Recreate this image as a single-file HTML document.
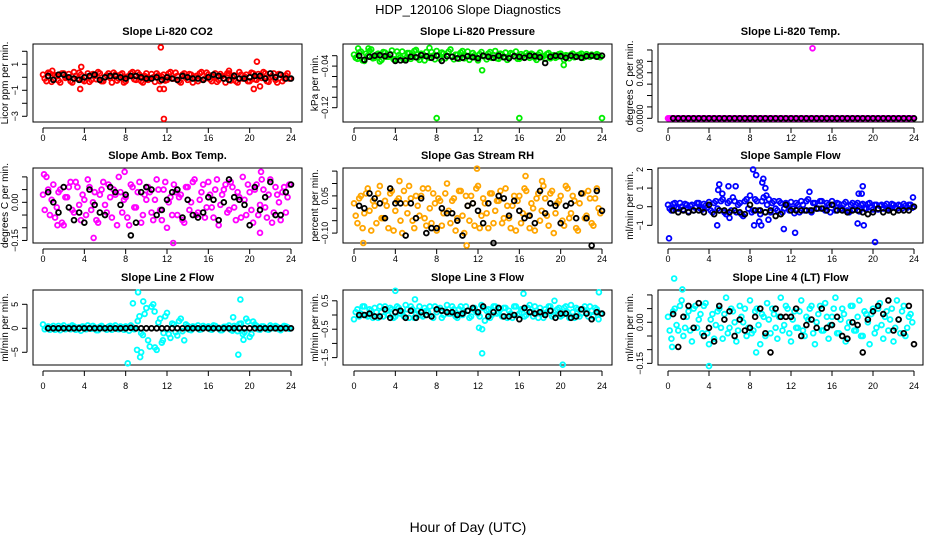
<!DOCTYPE html>
<html><head><meta charset="utf-8"><style>
html,body{margin:0;padding:0;background:#fff;}
svg{display:block;font-family:"Liberation Sans",sans-serif;}
</style></head><body>
<svg id="c" width="936" height="540" viewBox="0 0 936 540">
<text x="468" y="14" text-anchor="middle" font-size="13">HDP_120106  Slope Diagnostics</text>
<text x="468" y="532" text-anchor="middle" font-size="14">Hour of Day (UTC)</text>
</svg>
<script>
const xTicks = [0,4,8,12,16,20,24];

const co2Color = [0.2,-0.3,0.3,-0.2,0.1,-0.4,0.3,0,-0.3,0.4,-0.1,0.2,-0.3,0.3,-0.2,0.1,0.4,-0.3,0,0.3,-0.4,0.2,-0.1,0.3,-0.3,0.1,0.4,-0.2,0.2,-0.4,0.3,-0.1,0,0.3,-0.3,0.2,-0.2,0.4,-0.1,0.1,-0.4,0.3,-0.2,0.2,0,-0.3,0.4,-0.1,0.2,-0.3,0.3,-0.2,0.1,-0.4,0.3,0,-0.3,0.4,-0.1,0.2,-0.3,0.3,-0.2,0.1,0.4,-0.3,0,0.3,-0.4,0.2,-0.1,0.3];
const co2Color2 = [-0.1,0.35,-0.35,0.15,-0.25,0.3,-0.05,0.25,-0.4,0.1,0.35,-0.2,0.05,-0.35,0.25,-0.15,0.3,-0.3,0.15,-0.05,0.35,-0.25,0.2,-0.4,0.05,0.3,-0.15,0.35,-0.3,0.1,-0.2,0.25,-0.35,0.15,0.05,-0.25,0.3,-0.1,0.35,-0.3,0.2,-0.05,0.25,-0.4,0.1,0.3,-0.2,0.35,-0.15,0.05,-0.35,0.25,-0.1,0.3,-0.25,0.15,-0.4,0.2,0.05,-0.3,0.35,-0.15,0.25,-0.05,0.3,-0.35,0.1,-0.2,0.25,-0.3,0.15,-0.1];
const co2Black = [0.1,-0.2,0.2,0.2,0,-0.1,-0.2,0,0.1,0.2,-0.2,0,0.1,0.1,0,-0.1,0.1,0.1,0,-0.1,-0.1,0,-0.2,0,-0.1,-0.2,0.1,0,-0.1,-0.1,-0.2,0,0.2,0.1,-0.1,-0.2,0.1,-0.1,-0.1,0,0.1,0.1,-0.1,0.3,0,0.2,-0.1,-0.1];
const co2OutHours = [11.4,11.7,11.3,11.7,3.6,3.7,20.7,20.4,21,0.9,18];
const co2OutVals = [2.3,-3.2,-0.9,-0.9,-0.9,0.8,1.2,-0.9,-0.7,0.5,0.5];

const presColor = [-0.018,-0.026,-0.012,-0.03,-0.02,-0.008,-0.024,-0.016,-0.028,-0.014,-0.022,-0.01,-0.027,-0.019,-0.012,-0.025,-0.015,-0.022,-0.009,-0.028,-0.017,-0.013,-0.024,-0.02,-0.011,-0.026,-0.016,-0.021,-0.008,-0.027,-0.018,-0.014,-0.025,-0.012,-0.022,-0.019,-0.029,-0.013,-0.021,-0.016,-0.024,-0.011,-0.026,-0.018,-0.014,-0.023,-0.017,-0.012,-0.026,-0.02,-0.015,-0.024,-0.018,-0.028,-0.014,-0.021,-0.017,-0.025,-0.019,-0.022,-0.016,-0.028,-0.02,-0.018,-0.023,-0.019,-0.016,-0.022,-0.02,-0.018,-0.021,-0.019];
const presColor2 = [-0.024,-0.014,-0.029,-0.016,-0.011,-0.025,-0.018,-0.031,-0.013,-0.022,-0.017,-0.027,-0.012,-0.023,-0.028,-0.015,-0.026,-0.011,-0.024,-0.016,-0.029,-0.021,-0.013,-0.027,-0.019,-0.014,-0.025,-0.012,-0.022,-0.018,-0.026,-0.011,-0.02,-0.028,-0.015,-0.024,-0.017,-0.021,-0.027,-0.013,-0.019,-0.025,-0.016,-0.022,-0.028,-0.015,-0.021,-0.026,-0.017,-0.023,-0.019,-0.016,-0.024,-0.018,-0.021,-0.026,-0.015,-0.02,-0.024,-0.017,-0.022,-0.019,-0.025,-0.016,-0.021,-0.018,-0.024,-0.017,-0.022,-0.02,-0.017,-0.023];
const presBlack = [-0.02,-0.028,-0.022,-0.02,-0.019,-0.021,-0.018,-0.03,-0.029,-0.029,-0.022,-0.023,-0.019,-0.021,-0.024,-0.02,-0.03,-0.021,-0.022,-0.025,-0.024,-0.021,-0.023,-0.025,-0.02,-0.022,-0.024,-0.02,-0.023,-0.025,-0.021,-0.022,-0.024,-0.02,-0.021,-0.023,-0.034,-0.022,-0.02,-0.021,-0.024,-0.02,-0.022,-0.024,-0.021,-0.02,-0.022,-0.02];
const presOutHours = [8,16,24,12.4,20.3,0.4,1.4,7.3];
const presOutVals = [-0.14,-0.14,-0.14,-0.048,-0.038,-0.006,-0.006,-0.005];

const tempColor = [0,0,0,0,0,0,0,0,0,0,0,0,0,0,0,0,0,0,0,0,0,0,0,0,0,0,0,0,0,0,0,0,0,0,0,0,0,0,0,0,0,0,0,0,0,0,0,0,0,0,0,0,0,0,0,0,0,0,0,0,0,0,0,0,0,0,0,0,0,0,0,0];
const tempColor2 = [0,0,0,0,0,0,0,0,0,0,0,0,0,0,0,0,0,0,0,0,0,0,0,0,0,0,0,0,0,0,0,0,0,0,0,0,0,0,0,0,0,0,0,0,0,0,0,0,0,0,0,0,0,0,0,0,0,0,0,0,0,0,0,0,0,0,0,0,0,0,0,0];
const tempBlack = [0,0,0,0,0,0,0,0,0,0,0,0,0,0,0,0,0,0,0,0,0,0,0,0,0,0,0,0,0,0,0,0,0,0,0,0,0,0,0,0,0,0,0,0,0,0,0,0];
const tempOutHours = [14.1];
const tempOutVals = [0.00123];

const ambColor = [0.03,0.1,-0.05,0.07,-0.02,0.05,-0.09,0.02,0.08,-0.04,0.06,-0.07,0.01,0.09,-0.03,0.04,-0.08,0.05,-0.01,0.07,-0.06,0.03,0.1,-0.04,0.02,-0.09,0.06,-0.02,0.08,-0.05,0.01,0.04,-0.07,0.09,-0.03,0.05,-0.1,0.02,0.07,-0.05,0.03,-0.08,0.06,0.0,0.09,-0.04,0.04,-0.06,0.08,-0.02,0.05,-0.09,0.03,0.07,-0.03,0.06,-0.07,0.02,0.1,-0.05,0.04,-0.08,0.07,-0.01,0.05,-0.06,0.09,-0.04,0.03,-0.07,0.06,0.02];
const ambColor2 = [-0.03,0.05,0.01,-0.06,0.04,-0.08,0.02,0.06,-0.03,0.08,-0.01,0.03,-0.05,0.06,0.0,-0.07,0.03,0.08,-0.04,0.02,0.05,-0.09,0.04,0.01,-0.06,0.07,-0.02,0.04,-0.08,0.03,0.06,-0.04,0.01,0.05,-0.07,0.08,0.0,-0.05,0.04,0.02,-0.07,0.06,-0.03,0.08,-0.05,0.01,0.07,-0.02,0.03,-0.06,0.09,-0.01,0.05,-0.04,0.08,-0.02,0.04,-0.06,0.01,0.07,-0.03,0.05,-0.05,0.09,-0.02,0.03,-0.08,0.06,0.0,0.04,-0.04,0.07];
const ambBlack = [0.04,0.0,-0.04,0.06,-0.02,-0.07,-0.04,-0.08,0.05,-0.01,-0.04,-0.05,0.06,0.04,-0.01,0.03,-0.13,-0.08,0.04,0.06,0.05,-0.05,-0.03,0.01,0.04,0.05,-0.06,0.01,-0.05,-0.06,-0.04,0.02,0.01,-0.07,0.0,0.09,0.02,0.01,-0.01,-0.09,0.06,-0.03,0.02,0.08,-0.05,-0.05,0.04,0.07];
const ambOutHours = [0.1,4.9,12.6,21.1,7.9,21,1.4];
const ambOutVals = [0.11,-0.14,-0.16,0.12,0.12,-0.12,-0.09];

const rhColor = [0.02,-0.06,0.05,-0.02,0.08,-0.09,0.01,0.06,-0.04,0.03,-0.08,0.07,-0.01,0.04,-0.1,0.02,0.09,-0.05,0.05,-0.03,0.08,-0.07,0.0,0.06,-0.09,0.03,-0.02,0.1,-0.06,0.04,-0.04,0.07,-0.1,0.01,0.05,-0.07,0.09,-0.03,0.02,-0.08,0.06,-0.01,0.03,-0.06,0.08,-0.04,0.01,-0.09,0.05,-0.02,0.07,-0.08,0.0,0.04,-0.05,0.09,-0.03,0.06,-0.1,0.02,0.05,-0.07,0.08,-0.02,0.03,-0.09,0.06,-0.04,0.07,-0.06,0.04,0.0];
const rhColor2 = [-0.03,0.04,-0.08,0.06,-0.01,0.03,-0.06,0.09,-0.04,0.01,0.06,-0.09,0.03,-0.05,0.07,-0.02,0.04,-0.08,0.01,0.05,-0.04,0.08,-0.06,0.02,0.04,-0.07,0.06,-0.01,0.03,-0.09,0.07,-0.03,0.05,-0.05,0.02,0.08,-0.08,0.04,-0.02,0.06,-0.06,0.03,0.07,-0.04,0.01,-0.08,0.05,0.03,-0.06,0.08,-0.03,0.02,-0.09,0.06,-0.01,0.04,-0.07,0.07,-0.02,0.03,-0.05,0.09,-0.04,0.05,-0.08,0.02,0.06,-0.03,0.04,-0.07,0.08,-0.02];
const rhBlack = [0.01,-0.0,0.06,0.04,0.02,-0.04,0.08,0.02,0.02,-0.11,0.02,-0.04,0.04,-0.1,-0.08,-0.08,0.0,-0.02,-0.02,-0.05,-0.11,0.01,0.02,-0.01,-0.06,0.02,-0.14,0.05,0.04,-0.03,0.03,-0.01,-0.04,-0.03,-0.06,0.07,-0.02,0.02,0.01,-0.06,0.01,0.02,-0.04,0.06,-0.04,-0.15,0.07,-0.01];
const rhOutHours = [11.9,16.6,10.9,0.9,4.4,18.2];
const rhOutVals = [0.16,0.13,-0.15,-0.14,0.11,0.11];

const flowColor = [0.1,-0.2,0.2,-0.1,0,0.15,-0.25,0.1,-0.05,0.2,-0.15,0.05,0.25,-0.3,0.3,-0.2,0.4,-0.4,0.3,0.5,-0.3,0.2,-0.5,0.4,0.6,-0.2,0.3,-0.4,0.5,0.1,-0.3,0.3,-0.2,0.2,-0.1,0.1,0.25,-0.35,0.1,0.3,-0.2,0.4,-0.3,0.2,-0.1,0.3,-0.2,0.1,0.3,-0.2,0.15,-0.1,0.25,-0.3,0.2,0.1,-0.25,0.15,-0.1,0.2,-0.15,0.1,0.05,-0.1,0.15,-0.05,0.1,-0.1,0.05,0.15,-0.05,0.1];
const flowColor2 = [-0.1,0.15,-0.05,0.2,-0.15,0.1,0.05,-0.2,0.2,-0.1,0.15,-0.05,-0.2,0.2,-0.1,0.3,-0.3,0.2,-0.2,0.3,0.1,-0.4,0.3,-0.1,-0.3,0.4,-0.2,0.3,-0.3,0.4,0.2,-0.1,0.3,-0.3,0.2,-0.2,-0.1,0.2,-0.3,0.1,0.3,-0.2,0.2,-0.1,0.3,-0.1,0.2,-0.3,0.1,0.2,-0.1,0.15,-0.2,0.1,-0.15,0.2,0.1,-0.1,0.15,-0.05,0.1,-0.15,0.1,0.05,-0.1,0.15,-0.05,0.1,-0.1,0.05,0.1,-0.05];
const flowBlack = [-0.2,-0.3,-0.2,-0.3,-0.2,-0.2,-0.3,0.1,-0.4,-0.2,-0.2,-0.3,-0.2,-0.3,-0.4,0.1,-0.2,-0.2,-0.3,-0.2,-0.5,-0.4,0.1,-0.2,-0.2,-0.2,-0.2,-0.2,-0.1,-0.1,-0.2,0.1,-0.2,-0.2,-0.3,-0.2,-0.2,-0.3,-0.4,-0.3,-0.1,-0.3,-0.2,-0.3,-0.2,-0.2,-0.2,0];
const flowOutHours = [0.1,4.8,4.9,5.0,5.3,5.9,6.6,8.3,8.6,9.3,9.5,9.6,9.8,8.4,8.9,9.1,9.2,13.8,18.5,18.9,19.0,18.6,19.1,20.2,11.3,12.4,23.9,6.0];
const flowOutVals = [-1.7,-1.0,0.9,1.2,0.7,1.1,1.1,2.0,1.7,1.5,1.0,0.6,-0.7,-1.0,-0.8,-1.0,1.3,0.8,-0.9,0.7,1.1,0.7,-1.0,-1.9,-1.2,-1.4,0.5,-0.6];

const l2Color = [0.8,0.2,-0.3,0.5,0,-0.4,0.6,0.1,-0.2,0.4,0,-0.5,0.3,0.6,-0.1,0.2,-0.4,0.5,0,0.3,-0.3,0.6,-0.2,0.1,0.4,-0.5,0.2,0,2.5,-1.4,4.2,-3.8,5.0,-4.5,2.0,-1.0,3.2,-2.0,0.8,-1.5,2.0,-2.5,0.5,-0.4,0.3,0.6,-0.2,0.2,0.4,-0.3,0.5,0.1,-0.4,0.3,0.6,-0.5,0.2,0.9,-1.2,2.0,-1.8,1.4,0.5,-0.3,0.4,-0.2,0.6,0,0.3,-0.4,0.5,0.2];
const l2Color2 = [-0.2,0.4,0.1,-0.3,0.5,0.2,-0.2,0.3,0.6,-0.3,0.2,0.4,-0.2,0.1,0.5,-0.4,0.3,0,-0.3,0.5,0.2,-0.1,0.4,-0.3,0.2,0.6,-0.2,1.5,-1.0,3.0,-2.5,4.5,-4.0,1.2,-3.0,2.5,-1.2,1.0,-0.8,1.5,-0.6,0.8,-0.3,0.4,0.1,-0.3,0.5,0.2,-0.2,0.6,0.1,-0.4,0.3,0.2,-0.3,0.5,-0.6,1.0,-0.8,1.4,-1.2,0.8,-0.2,0.4,0.1,-0.3,0.3,0.5,-0.2,0.2,0.4,-0.1];
const l2Black = [0,0,0,0,0,0,0,0,0,0,0,0,0,0,0,0,0.1,0,0,0,0,0,0,0,0,0,0,0,0,0,0,0,0,0,0,0,0,0,0,0,0,0,0,0,0,0,0,0];
const l2OutHours = [8.2,9.2,9.4,8.7,9.1,9.5,9.7,10.8,11.6,19.1,18.9,19.4,18.4];
const l2OutVals = [-7.3,7.5,-6.0,5.2,-4.5,-5.0,5.6,3.5,-2.5,6.0,-5.5,-2.4,2.3];

const l3Color = [-0.15,0.2,0.05,0.3,-0.05,0.15,0.25,-0.1,0.1,0.3,0.0,0.2,-0.05,0.25,0.1,0.35,-0.1,0.2,0.05,0.3,-0.05,0.15,0.3,-0.1,0.1,0.25,0.0,0.35,0.05,0.2,-0.1,0.3,0.1,0.15,-0.05,0.25,0.05,0.35,-0.2,0.2,0.0,0.3,0.1,-0.05,0.25,0.15,-0.1,0.3,0.05,0.2,0.0,0.35,-0.05,0.15,0.25,-0.1,0.1,0.3,0.0,0.2,-0.05,0.25,0.1,0.35,-0.1,0.2,0.05,0.3,-0.05,0.15,0.25,-0.15];
const l3Color2 = [0.1,-0.05,0.3,0.0,0.2,-0.1,0.1,0.3,-0.05,0.15,0.25,-0.1,0.3,0.05,-0.05,0.2,0.3,-0.1,0.15,0.0,0.25,0.1,-0.05,0.3,0.2,-0.1,0.15,0.05,0.3,-0.05,0.2,0.0,0.3,-0.1,0.2,0.1,-0.05,0.25,0.15,-0.1,0.3,0.05,0.2,0.25,-0.1,0.05,0.3,0.0,0.2,-0.05,0.25,0.1,0.3,-0.1,0.05,0.2,0.3,-0.05,0.15,0.25,0.0,0.3,-0.1,0.1,0.25,-0.05,0.2,0.1,0.3,-0.05,0.2,0.05];
const l3Black = [0,0,0.05,-0.05,-0.05,0.2,-0.1,0.1,0.15,-0.1,0.15,-0.1,0.1,0,-0.05,0.2,0.15,0.1,0.1,0,0.05,0.15,0.25,0.1,0.3,-0.05,0.1,0.25,-0.05,-0.05,0,-0.15,0.25,0.1,0.05,0.1,0,0.15,-0.1,0.05,0.05,-0.1,-0.05,0.2,0.05,-0.15,0.1,0.05];
const l3OutHours = [12.4,20.2,12.1,12.4,4.0,16.4,23.7,5.9,19.4];
const l3OutVals = [-1.35,-1.75,-0.45,-0.5,0.85,0.75,0.8,0.55,0.5];

const l4Color = [0.02,-0.06,0.05,-0.03,0.08,-0.02,0.04,-0.07,0.06,0.01,-0.04,0.07,-0.08,0.03,-0.01,0.05,-0.06,0.09,-0.02,0.04,-0.07,0.06,0.0,-0.05,0.08,-0.03,0.05,-0.08,0.02,0.07,-0.04,0.03,-0.06,0.09,-0.01,0.05,-0.07,0.04,-0.02,0.08,-0.05,0.01,0.06,-0.08,0.03,-0.03,0.07,-0.06,0.02,0.09,-0.04,0.05,-0.07,0.0,0.06,-0.03,0.08,-0.05,0.03,-0.08,0.05,-0.02,0.07,-0.06,0.04,0.01,-0.07,0.08,-0.04,0.06,-0.02,0.03];
const l4Color2 = [-0.03,0.04,-0.01,0.06,-0.05,0.02,-0.03,0.05,-0.02,0.03,0.06,-0.04,0.01,-0.06,0.04,-0.02,0.03,-0.04,0.05,0.0,-0.03,0.02,0.05,-0.02,-0.04,0.04,-0.01,0.03,-0.05,0.01,0.05,-0.02,0.02,-0.03,0.06,-0.04,0.01,-0.02,0.04,-0.03,0.02,0.05,-0.04,0.0,0.06,-0.03,0.02,-0.01,0.05,-0.04,0.01,0.03,-0.02,0.06,-0.03,0.02,-0.05,0.04,0.0,0.03,-0.04,0.05,-0.01,0.02,-0.03,0.05,-0.02,0.01,0.04,-0.05,0.02,0.0];
const l4Black = [0.03,-0.09,0.02,0.06,-0.02,0.07,-0.05,-0.02,-0.07,0.06,0.01,0.04,-0.05,0.01,-0.03,-0.02,0.02,0.05,-0.04,-0.11,0.05,0.02,0.02,0.02,0.05,-0.05,-0.01,0.01,-0.02,0.05,-0.02,-0.01,0.02,-0.05,-0.06,0.0,-0.01,-0.11,0.01,0.04,0.06,0.03,0.08,-0.03,0.01,-0.04,0.06,-0.08];
const l4OutHours = [0.6,4.0,8.6,0.4,1.4];
const l4OutVals = [0.16,-0.16,-0.11,-0.09,0.12];

const NS = "http://www.w3.org/2000/svg";
const svg = document.getElementById('c');
function mk(tag, attrs, parent){
  const e = document.createElementNS(NS, tag);
  for (const k in attrs) e.setAttribute(k, attrs[k]);
  (parent||svg).appendChild(e);
  return e;
}

const panels = [
 {key:'co2',title:'Slope Li-820 CO2',ylab:'Licor ppm per min.',col:0,row:0,ymin:-3.44,ymax:2.56,ticks:[-3,-2,-1,0,1,2],labels:[1,-1,-3],fmt:v=>v<0?'\u2212'+(-v):''+v,color:'#ff0000',c:co2Color,c2:co2Color2,b:co2Black,oh:co2OutHours,ov:co2OutVals},
 {key:'pressure',title:'Slope Li-820 Pressure',ylab:'kPa per min.',col:1,row:0,ymin:-0.1475,ymax:0.0025,ticks:[-0.02,-0.04,-0.06,-0.08,-0.1,-0.12],labels:[-0.04,-0.12],fmt:v=>'\u2212'+(-v).toFixed(2),color:'#00ee00',c:presColor,c2:presColor2,b:presBlack,oh:presOutHours,ov:presOutVals},
 {key:'temp',title:'Slope Li-820 Temp.',ylab:'degrees C per min.',col:2,row:0,ymin:-0.000065,ymax:0.001305,ticks:[0,0.0002,0.0004,0.0006,0.0008,0.001,0.0012],labels:[0,0.0008],fmt:v=>v.toFixed(4),color:'#ff00ff',c:tempColor,c2:tempColor2,b:tempBlack,oh:tempOutHours,ov:tempOutVals},
 {key:'amb-temp',title:'Slope Amb. Box Temp.',ylab:'degrees C per min.',col:0,row:1,ymin:-0.16,ymax:0.135,ticks:[-0.15,-0.1,-0.05,0,0.05,0.1],labels:[0,-0.15],fmt:v=>v<0?'\u2212'+(-v).toFixed(2):v.toFixed(2),color:'#ff00ff',c:ambColor,c2:ambColor2,b:ambBlack,oh:ambOutHours,ov:ambOutVals},
 {key:'gas-rh',title:'Slope Gas Stream RH',ylab:'percent per min.',col:1,row:1,ymin:-0.14,ymax:0.1625,ticks:[-0.1,-0.05,0,0.05,0.1,0.15],labels:[0.05,-0.1],fmt:v=>v<0?'\u2212'+(-v).toFixed(2):v.toFixed(2),color:'#ffa500',c:rhColor,c2:rhColor2,b:rhBlack,oh:rhOutHours,ov:rhOutVals},
 {key:'sample-flow',title:'Slope Sample Flow',ylab:'ml/min per min.',col:2,row:1,ymin:-1.95,ymax:2.08,ticks:[-1,0,1,2],labels:[2,1,0,-1],fmt:v=>v<0?'\u2212'+(-v):''+v,color:'#0000ff',c:flowColor,c2:flowColor2,b:flowBlack,oh:flowOutHours,ov:flowOutVals},
 {key:'line2-flow',title:'Slope Line 2 Flow',ylab:'ml/min per min.',col:0,row:2,ymin:-7.65,ymax:7.98,ticks:[-5,0,5],labels:[5,0,-5],fmt:v=>v<0?'\u2212'+(-v):''+v,color:'#00ffff',c:l2Color,c2:l2Color2,b:l2Black,oh:l2OutHours,ov:l2OutVals},
 {key:'line3-flow',title:'Slope Line 3 Flow',ylab:'ml/min per min.',col:1,row:2,ymin:-1.76,ymax:0.88,ticks:[-1.5,-1,-0.5,0,0.5],labels:[0.5,-0.5,-1.5],fmt:v=>v<0?'\u2212'+(-v):''+v,color:'#00ffff',c:l3Color,c2:l3Color2,b:l3Black,oh:l3OutHours,ov:l3OutVals},
 {key:'line4-flow',title:'Slope Line 4 (LT) Flow',ylab:'ml/min per min.',col:2,row:2,ymin:-0.156,ymax:0.118,ticks:[-0.15,-0.1,-0.05,0,0.05,0.1],labels:[0,-0.15],fmt:v=>v<0?'\u2212'+(-v).toFixed(2):v.toFixed(2),color:'#00ffff',c:l4Color,c2:l4Color2,b:l4Black,oh:l4OutHours,ov:l4OutVals}
];
const cols = [{b0:33,b1:302,h0:43,h24:291},{b0:343,b1:612,h0:354,h24:602},{b0:658,b1:923,h0:668,h24:914}];
const rows = [{t:44,b:122,title:35,xl:141},{t:168,b:243,title:159,xl:262},{t:290,b:365,title:281,xl:389}];

panels.forEach(p=>{
  const C = cols[p.col], R = rows[p.row];
  const g = mk('g',{});
  
  
  const xs = h => C.h0 + h*(C.h24-C.h0)/24;
  const ys = v => R.b - (v-p.ymin)/(p.ymax-p.ymin)*(R.b-R.t);
  const t = mk('text',{x:(C.b0+C.b1)/2,y:R.title,'text-anchor':'middle','font-size':11,'font-weight':'bold'},g);
  t.textContent = p.title;
  
  
  const box = mk('rect',{x:C.b0,y:R.t,width:C.b1-C.b0,height:R.b-R.t,fill:'none',stroke:'#000','stroke-width':1},g);
  
  
  const xa = mk('g',{},g);
  
  
  mk('line',{x1:xs(xTicks[0]),x2:xs(xTicks[xTicks.length-1]),y1:R.b+6,y2:R.b+6,stroke:'#000'},xa);
  xTicks.forEach(h=>{
    mk('line',{x1:xs(h),x2:xs(h),y1:R.b+6,y2:R.b+11,stroke:'#000'},xa);
    const tl = mk('text',{x:xs(h),y:R.xl,'text-anchor':'middle','font-size':9},xa);
    tl.textContent = h;
    
    
  });
  const ya = mk('g',{},g);
  
  
  const tks = p.ticks;
  mk('line',{x1:C.b0-6,x2:C.b0-6,y1:ys(Math.min(...tks)),y2:ys(Math.max(...tks)),stroke:'#000'},ya);
  tks.forEach(v=>{ mk('line',{x1:C.b0-11,x2:C.b0-6,y1:ys(v),y2:ys(v),stroke:'#000'},ya); });
  p.labels.forEach(v=>{
    const lx = C.b0-15, ly = ys(v);
    const tl = mk('text',{x:lx,y:ly,'text-anchor':'middle','font-size':9,transform:`rotate(-90 ${lx} ${ly})`},ya);
    tl.textContent = p.fmt(v);
    
    
  });
  const yx = C.b0-25, yy = (R.t+R.b)/2;
  const yt = mk('text',{x:yx,y:yy,'text-anchor':'middle','font-size':10,transform:`rotate(-90 ${yx} ${yy})`},g);
  yt.textContent = p.ylab;
  
  
  const sc = mk('g',{fill:'none',stroke:p.color,'stroke-width':1.8},g);
  
  
  p.c.forEach((v,i)=>{
    const h = i*24/p.c.length;
    const pt = mk('circle',{cx:xs(h),cy:ys(v),r:2.4},sc);
    
    
  });
  p.c2.forEach((v,i)=>{
    const h = (i+0.5)*24/p.c2.length;
    const pt = mk('circle',{cx:xs(h),cy:ys(v),r:2.4},sc);
    
    
  });
  p.oh.forEach((h,i)=>{
    const pt = mk('circle',{cx:xs(h),cy:ys(p.ov[i]),r:2.4},sc);
    
    
  });
  const sb = mk('g',{fill:'none',stroke:'#000','stroke-width':1.8},g);
  
  
  p.b.forEach((v,i)=>{
    const h = (i+1)*24/p.b.length;
    const pt = mk('circle',{cx:xs(h),cy:ys(v),r:2.4},sb);
    
    
  });
});
</script>
</body></html>
